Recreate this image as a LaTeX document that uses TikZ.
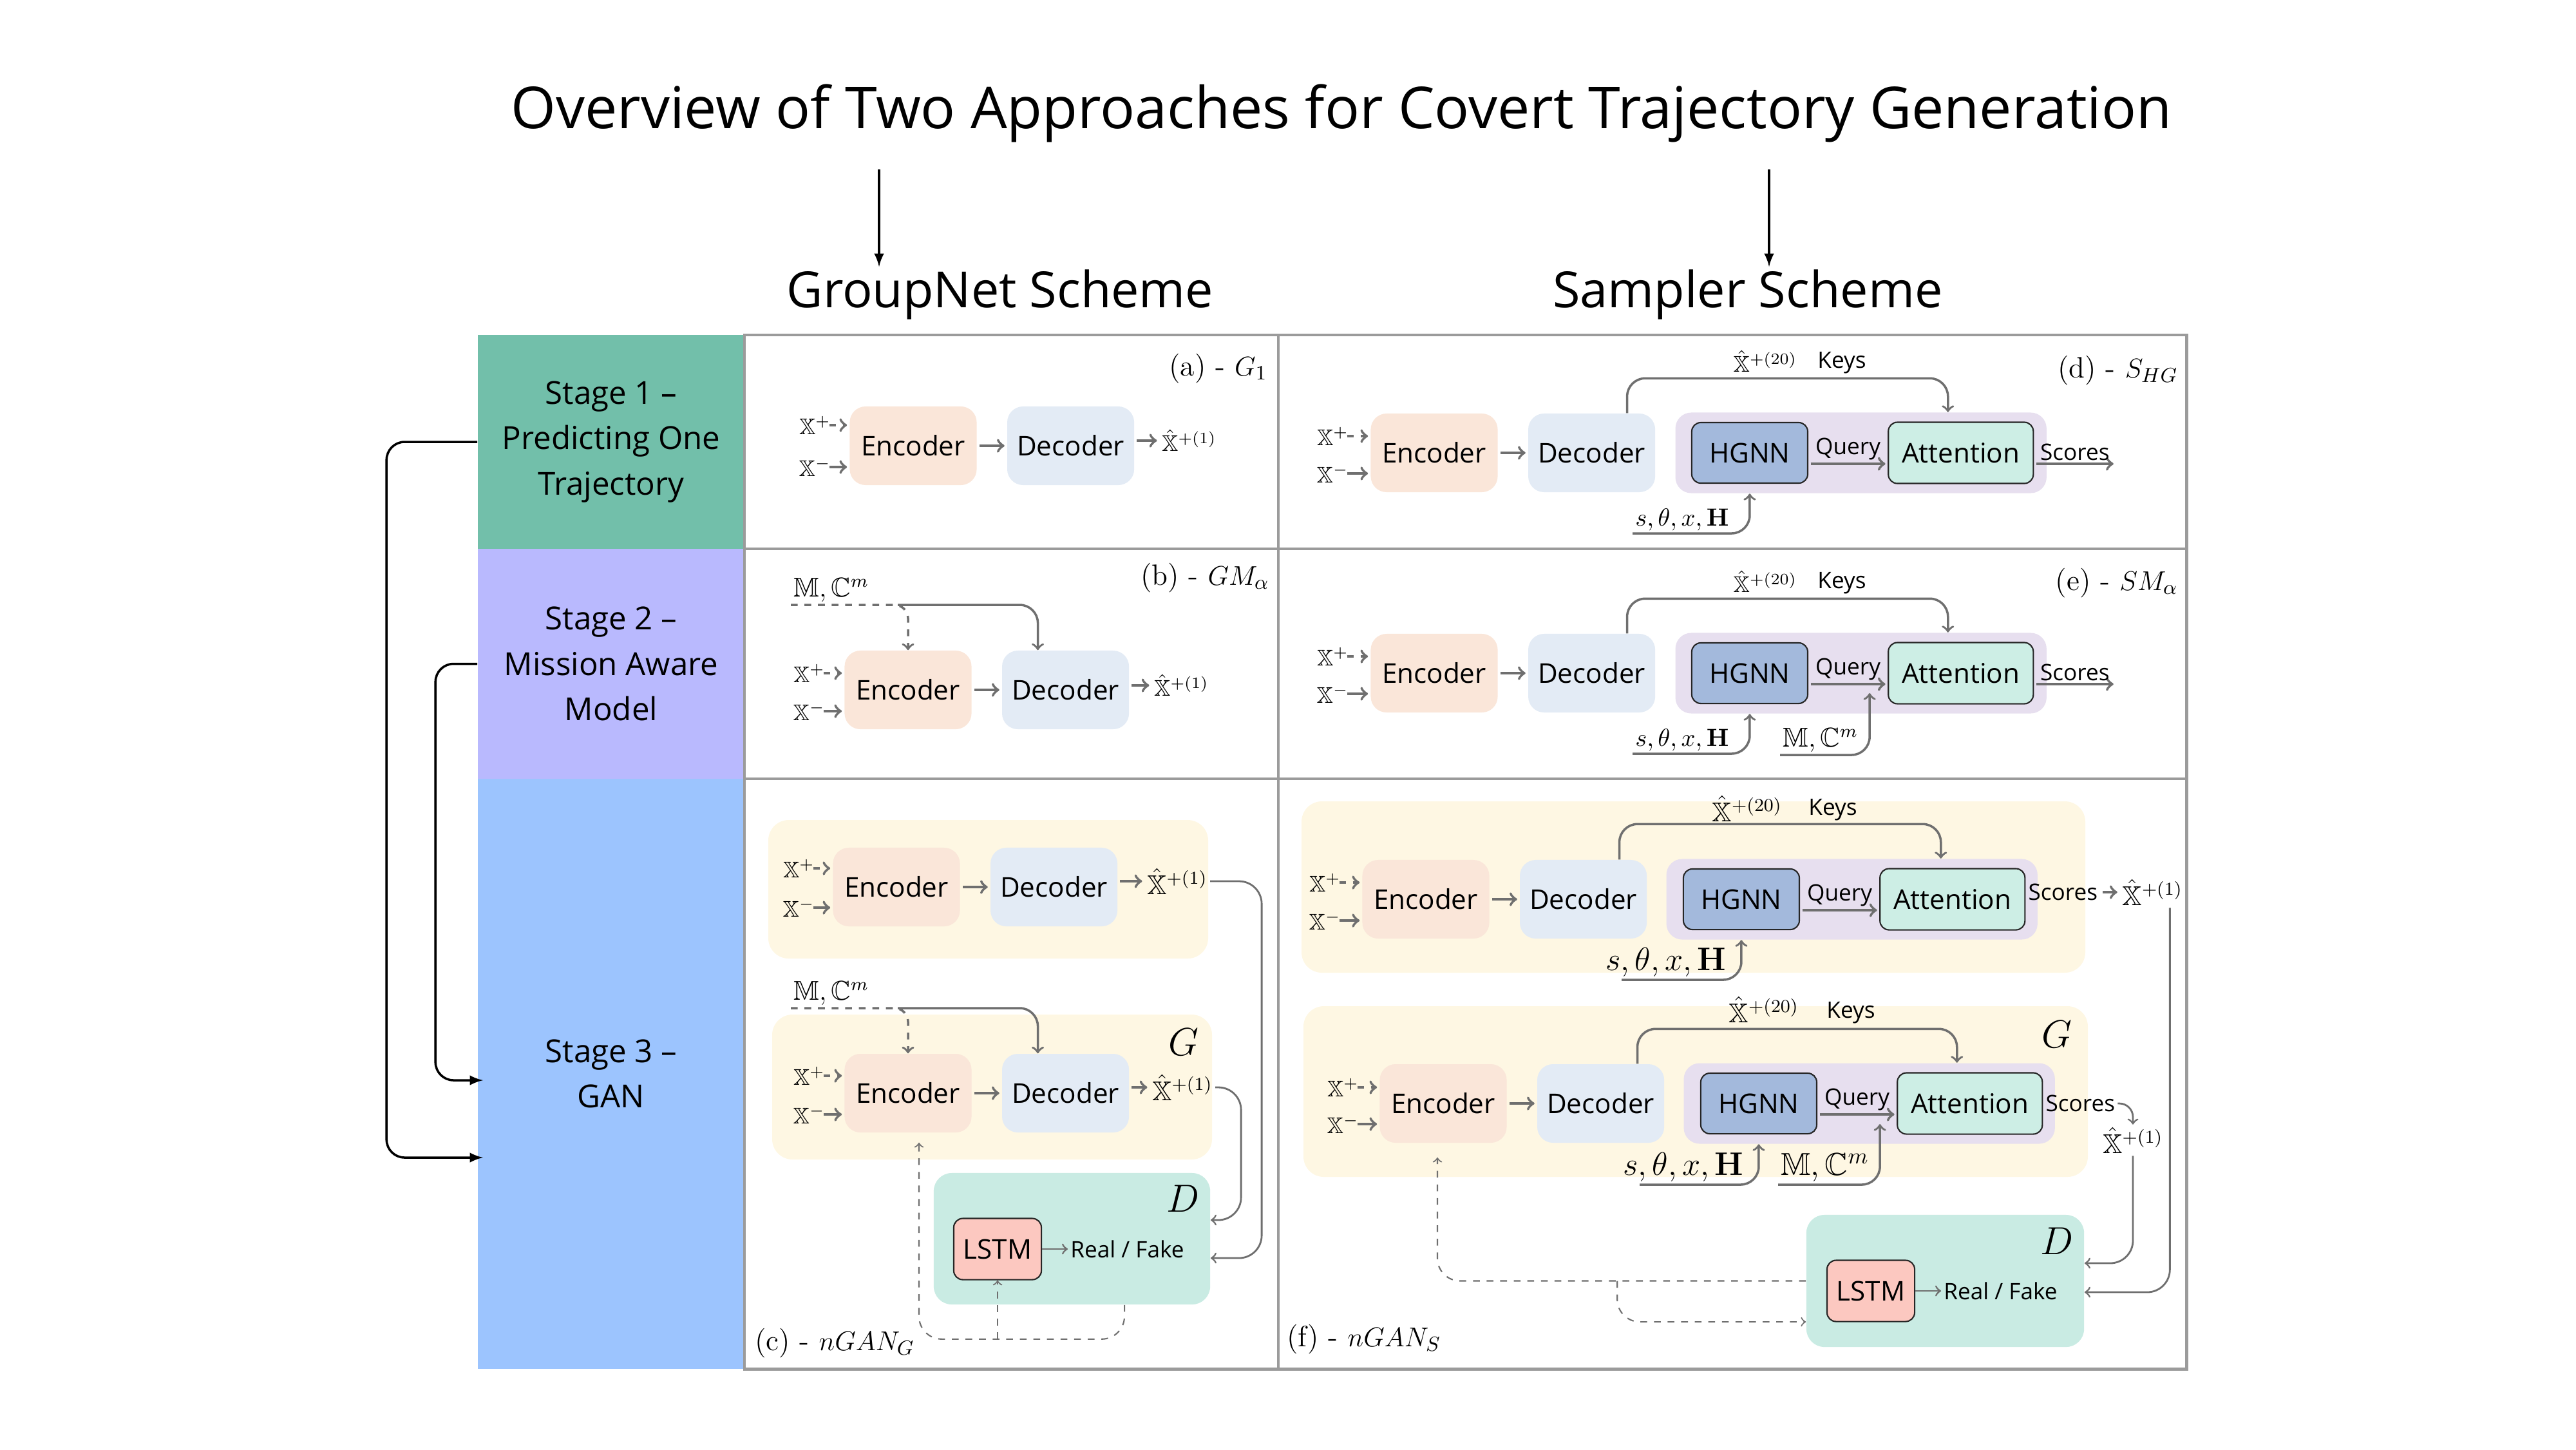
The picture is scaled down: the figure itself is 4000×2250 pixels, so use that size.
\documentclass[tikz,border=0pt]{standalone}
\usepackage{amsmath}
\usepackage{amssymb}
\usepackage[no-math]{fontspec}
\setsansfont{Open Sans}
\usepackage{tikz}
\definecolor{stageone}{HTML}{72BFAA}
\definecolor{stagetwo}{HTML}{B9B9FE}
\definecolor{stagethree}{HTML}{9CC4FE}
\definecolor{encfill}{HTML}{FAE6D9}
\definecolor{decfill}{HTML}{E3EBF5}
\definecolor{yelfill}{HTML}{FEF7E3}
\definecolor{grpfill}{HTML}{E7DFEF}
\definecolor{hgnnfill}{HTML}{A3B9DC}
\definecolor{attfill}{HTML}{CDEEE5}
\definecolor{discfill}{HTML}{C9EBE3}
\definecolor{lstmfill}{HTML}{FCC8C0}
\definecolor{flowgray}{HTML}{6F6F6F}
\definecolor{gridgray}{HTML}{9B9B9B}
\newlength{\BoxSep}
\setlength{\BoxSep}{4.6mm}
\newlength{\QuerySep}
\setlength{\QuerySep}{12.3mm}
\tikzset{/traj/enc/.style={
	rectangle, rounded corners=7pt, fill=encfill, minimum width=1.97cm, minimum height=1.22cm, font=\sffamily\fontsize{12}{14}\selectfont
}}
\tikzset{/traj/dec/.style={/traj/enc, fill=decfill}}
\tikzset{/traj/grp/.style={rectangle, rounded corners=7pt, fill=grpfill, minimum width=5.76cm, minimum height=1.25cm}}
\tikzset{/traj/hgnn/.style={
	rectangle, rounded corners=4pt, draw=black!85, line width=0.6pt, fill=hgnnfill, minimum width=1.8cm, minimum height=0.94cm, font=\sffamily\fontsize{12}{14}\selectfont
}}
\tikzset{/traj/att/.style={/traj/hgnn, fill=attfill, minimum width=2.25cm, minimum height=0.95cm}}
\tikzset{/traj/lstm/.style={/traj/hgnn, fill=lstmfill, minimum width=1.36cm, minimum height=0.95cm}}
\tikzset{/traj/disc/.style={rectangle, rounded corners=8pt, fill=discfill}}
\tikzset{/traj/stage/.style={rectangle, inner sep=0pt, minimum width=4.14cm, align=center, font=\sffamily\fontsize{14}{20}\selectfont}}
\tikzset{/traj/title/.style={inner sep=1pt, anchor=base, font=\sffamily\fontsize{25.5}{30}\selectfont}}
\tikzset{/traj/scheme/.style={inner sep=1pt, anchor=base, font=\sffamily\fontsize{22}{26}\selectfont}}
\tikzset{/traj/lbl/.style={inner sep=1pt, font=\sffamily\fontsize{10}{12}\selectfont}}
\tikzset{/traj/math/.style={inner sep=1pt, font=\fontsize{10}{12}\selectfont}}
\tikzset{/traj/mathM/.style={inner sep=1pt, font=\fontsize{11}{13}\selectfont}}
\tikzset{/traj/mathL/.style={inner sep=1pt, font=\fontsize{12}{14}\selectfont}}
\tikzset{/traj/mathXL/.style={inner sep=1pt, font=\fontsize{14}{16}\selectfont}}
\tikzset{/traj/tag/.style={inner sep=1pt, font=\fontsize{13}{15}\selectfont}}
\tikzset{/traj/big/.style={inner sep=1pt, font=\fontsize{16}{18}\selectfont}}
\tikzset{/traj/flow/.style={draw=flowgray, line width=1.2pt, shorten >=1pt, shorten <=1pt, ->}}
\tikzset{/traj/key/.style={draw=flowgray, line width=1pt, ->}}
\tikzset{/traj/thin/.style={draw=flowgray, line width=0.8pt, ->}}
\tikzset{/traj/loop/.style={draw=flowgray, line width=0.6pt, dashed, ->}}
\tikzset{/traj/bracket/.style={draw=black, line width=1pt, -latex}}
\tikzset{/traj/grid/.style={draw=gridgray, line width=1.4pt}}
\begin{document}
\begin{tikzpicture}[x=0.01cm, y=-0.01cm]
			\useasboundingbox (0,0) rectangle (4000,2250);
			\node[/traj/title] (title) at (2083,199) {Overview of Two Approaches for Covert Trajectory Generation};
			\node[/traj/scheme] (grp) at (1553,477) {GroupNet Scheme};
			\node[/traj/scheme] (smp) at (2714,477) {Sampler Scheme};
			\coordinate (arrG) at (1365,263);
			\coordinate (arrS) at (2747,263);
			\draw[/traj/bracket] (arrG) -- (arrG |- grp.north);
			\draw[/traj/bracket] (arrS) -- (arrS |- smp.north);
			\node[/traj/stage, fill=stageone, minimum height=3.32cm] (stage1) at (949,686) {Stage 1 --\\Predicting One\\Trajectory};
			\node[/traj/stage, fill=stagetwo, minimum height=3.57cm] (stage2) at (949,1030.5) {Stage 2 --\\Mission Aware\\Model};
			\node[/traj/stage, fill=stagethree, minimum height=9.16cm] (stage3) at (949,1667) {Stage 3 --\\GAN};
			\coordinate (in1) at (750,1797);
			\coordinate (in2) at (750,1677);
			\draw[/traj/bracket, rounded corners=8pt] (stage1.west) -- ++(-141,0) |- (in1);
			\draw[/traj/bracket, rounded corners=8pt] (stage2.west) -- ++(-65,0) |- (in2);
			\draw[/traj/grid] (1156,520) rectangle (3395,2125);
			\draw[/traj/grid] (1985,520) -- (1985,2125);
			\draw[/traj/grid] (1156,852) -- (3395,852);
			\draw[/traj/grid] (1156,1209) -- (3395,1209);
			\node[/traj/enc] (encA) at (1418,692) {Encoder};
			\path (encA.east) ++(\BoxSep,0) node[anchor=west, /traj/dec] (decA) {Decoder} edge[/traj/flow, <-] (encA);
			\node[/traj/math, anchor=east] (xpA) at (1294,660) {$\mathbb{X}^{+}$};
			\node[/traj/math, anchor=east] (xmA) at (1294,725) {$\mathbb{X}^{-}$};
			\draw[/traj/flow, dashed] ([xshift=-1mm]xpA.east) -- (xpA.east -| encA.west);
			\draw[/traj/flow] ([xshift=-1mm]xmA.east) -- (xmA.east -| encA.west);
			\node[/traj/math, anchor=west] (outA) at (1800,684) {$\hat{\mathbb{X}}^{+(1)}$};
			\draw[/traj/flow] (decA.east |- outA.west) -- (outA.west);
			\node[/traj/tag, anchor=east] (tagA) at (1972,572) {(a) - $G_1$};
			\node[/traj/enc] (encB) at (1410,1071) {Encoder};
			\path (encB.east) ++(\BoxSep,0) node[anchor=west, /traj/dec] (decB) {Decoder} edge[/traj/flow, <-] (encB);
			\node[/traj/math, anchor=east] (xpB) at (1285,1045) {$\mathbb{X}^{+}$};
			\node[/traj/math, anchor=east] (xmB) at (1285,1104) {$\mathbb{X}^{-}$};
			\draw[/traj/flow, dashed] ([xshift=-1mm]xpB.east) -- (xpB.east -| encB.west);
			\draw[/traj/flow] ([xshift=-1mm]xmB.east) -- (xmB.east -| encB.west);
			\node[/traj/math, anchor=west] (outB) at (1788,1064) {$\hat{\mathbb{X}}^{+(1)}$};
			\draw[/traj/flow] (decB.east |- outB.west) -- (outB.west);
			\node[/traj/mathL, anchor=south west] (mcB) at (1228,939) {$\mathbb{M},\mathbb{C}^m$};
			\draw[/traj/key, dashed, rounded corners=6pt] (mcB.south west) -| (encB.north);
			\draw[/traj/key, rounded corners=8pt] ([xshift=-1.6mm]encB.north |- mcB.south) -| ([xshift=-4.3mm]decB.north);
			\node[/traj/tag, anchor=east] (tagB) at (1975,897) {(b) - $GM_\alpha$};
			\fill[yelfill, rounded corners=9pt] (1193,1273) rectangle (1876,1488);
			\fill[yelfill, rounded corners=9pt] (1199,1575) rectangle (1882,1800);
			\node[/traj/enc] (encC1) at (1392,1377) {Encoder};
			\path (encC1.east) ++(\BoxSep,0) node[anchor=west, /traj/dec] (decC1) {Decoder} edge[/traj/flow, <-] (encC1);
			\node[/traj/math, anchor=east] (xpC1) at (1269,1348) {$\mathbb{X}^{+}$};
			\node[/traj/math, anchor=east] (xmC1) at (1269,1409) {$\mathbb{X}^{-}$};
			\draw[/traj/flow, dashed] ([xshift=-1mm]xpC1.east) -- (xpC1.east -| encC1.west);
			\draw[/traj/flow] ([xshift=-1mm]xmC1.east) -- (xmC1.east -| encC1.west);
			\node[/traj/mathL, anchor=west] (outC1) at (1777,1368) {$\hat{\mathbb{X}}^{+(1)}$};
			\draw[/traj/flow] (decC1.east |- outC1.west) -- (outC1.west);
			\node[/traj/mathL, anchor=south west] (mcC) at (1228,1565) {$\mathbb{M},\mathbb{C}^m$};
			\node[/traj/enc] (encC2) at (1410,1697) {Encoder};
			\path (encC2.east) ++(\BoxSep,0) node[anchor=west, /traj/dec] (decC2) {Decoder} edge[/traj/flow, <-] (encC2);
			\draw[/traj/key, dashed, rounded corners=6pt] (mcC.south west) -| (encC2.north);
			\draw[/traj/key, rounded corners=8pt] ([xshift=-1.6mm]encC2.north |- mcC.south) -| ([xshift=-4.3mm]decC2.north);
			\node[/traj/math, anchor=east] (xpC2) at (1285,1670) {$\mathbb{X}^{+}$};
			\node[/traj/math, anchor=east] (xmC2) at (1285,1730) {$\mathbb{X}^{-}$};
			\draw[/traj/flow, dashed] ([xshift=-1mm]xpC2.east) -- (xpC2.east -| encC2.west);
			\draw[/traj/flow] ([xshift=-1mm]xmC2.east) -- (xmC2.east -| encC2.west);
			\node[/traj/mathL, anchor=west] (outC2) at (1785,1688) {$\hat{\mathbb{X}}^{+(1)}$};
			\draw[/traj/flow] (decC2.east |- outC2.west) -- (outC2.west);
			\node[/traj/big] (gC) at (1838,1618) {$G$};
			\node[/traj/disc, minimum width=4.29cm, minimum height=2.04cm] (dC) at (1664.5,1923) {};
			\node[/traj/big] (dCl) at (1837,1861) {$D$};
			\node[/traj/lstm] (lstmC) at (1549,1939) {LSTM};
			\path (lstmC.east) ++(4mm,0) node[anchor=west, /traj/lbl] (rfC) {Real / Fake} edge[/traj/thin, <-] (lstmC);
			\draw[/traj/thin, rounded corners=10pt] (outC1.east) -- ++(80,0) |- ([yshift=-3mm]dC.east);
			\draw[/traj/thin, rounded corners=10pt] (outC2.east) -- ++(40,0) |- ([yshift=2.9mm]dC.east);
			\draw[/traj/loop, rounded corners=10pt] ([xshift=8.15mm]dC.south) -- ++(0,53) coordinate (loopC) -| ([xshift=1.7mm, yshift=-1.5mm]encC2.south);
			\draw[/traj/loop] (lstmC.south |- loopC) -- (lstmC.south);
			\node[/traj/tag, anchor=west] (tagC) at (1168,2085) {(c) - $nGAN_G$};
			\node[/traj/enc] (encD) at (2227,703) {Encoder};
			\path (encD.east) ++(\BoxSep,0) node[anchor=west, /traj/dec] (decD) {Decoder} edge[/traj/flow, <-] (encD);
			\path (decD.east) ++(3mm,0) node[anchor=west, /traj/grp] (pD) {};
			\path (pD.west) ++(2.5mm,0) node[anchor=west, /traj/hgnn] (hgnnD) {HGNN};
			\path (hgnnD.east) ++(\QuerySep,0) node[anchor=west, /traj/att] (attD) {Attention};
			\draw[/traj/flow] ([yshift=-1.7mm]hgnnD.east) -- node[above, /traj/lbl] (qD) {Query} ([yshift=-1.7mm]attD.west);
			\draw[/traj/flow] ([yshift=-1.7mm]attD.east) -- node[above, /traj/lbl] (scD) {Scores} ++(127,0) coordinate (scDe);
			\draw[/traj/key, rounded corners=8pt] ([xshift=5.5mm]decD.north) -- ++(0,-54) -| ([xshift=-2mm]attD.north |- pD.north);
			\node[/traj/math, anchor=east] (xpD) at (2098,677) {$\mathbb{X}^{+}$};
			\node[/traj/math, anchor=east] (xmD) at (2098,735) {$\mathbb{X}^{-}$};
			\draw[/traj/flow, dashed] ([xshift=-1mm]xpD.east) -- (xpD.east -| encD.west);
			\draw[/traj/flow] ([xshift=-1mm]xmD.east) -- (xmD.east -| encD.west);
			\node[/traj/math] (kxD) at (2741,561) {$\hat{\mathbb{X}}^{+(20)}$};
			\node[/traj/lbl] (kyD) at (2860,563) {Keys};
			\node[/traj/mathM, anchor=south west] (sD) at (2535,828) {$s,\theta,x,\mathbf{H}$};
			\draw[/traj/key, rounded corners=8pt] (sD.south west) -| (hgnnD.south |- pD.south);
			\node[/traj/tag, anchor=east] (tagD) at (3386,575) {(d) - $S_{HG}$};
			\node[/traj/enc] (encE) at (2227,1045) {Encoder};
			\path (encE.east) ++(\BoxSep,0) node[anchor=west, /traj/dec] (decE) {Decoder} edge[/traj/flow, <-] (encE);
			\path (decE.east) ++(3mm,0) node[anchor=west, /traj/grp] (pE) {};
			\path (pE.west) ++(2.5mm,0) node[anchor=west, /traj/hgnn] (hgnnE) {HGNN};
			\path (hgnnE.east) ++(\QuerySep,0) node[anchor=west, /traj/att] (attE) {Attention};
			\draw[/traj/flow] ([yshift=-1.7mm]hgnnE.east) -- node[above, /traj/lbl] (qE) {Query} ([yshift=-1.7mm]attE.west);
			\draw[/traj/flow] ([yshift=-1.7mm]attE.east) -- node[above, /traj/lbl] (scE) {Scores} ++(127,0) coordinate (scEe);
			\draw[/traj/key, rounded corners=8pt] ([xshift=5.5mm]decE.north) -- ++(0,-54) -| ([xshift=-2mm]attE.north |- pE.north);
			\node[/traj/math, anchor=east] (xpE) at (2098,1019) {$\mathbb{X}^{+}$};
			\node[/traj/math, anchor=east] (xmE) at (2098,1077) {$\mathbb{X}^{-}$};
			\draw[/traj/flow, dashed] ([xshift=-1mm]xpE.east) -- (xpE.east -| encE.west);
			\draw[/traj/flow] ([xshift=-1mm]xmE.east) -- (xmE.east -| encE.west);
			\node[/traj/math] (kxE) at (2741,903) {$\hat{\mathbb{X}}^{+(20)}$};
			\node[/traj/lbl] (kyE) at (2860,905) {Keys};
			\node[/traj/mathM, anchor=south west] (sE) at (2535,1170) {$s,\theta,x,\mathbf{H}$};
			\draw[/traj/key, rounded corners=8pt] (sE.south west) -| (hgnnE.south |- pE.south);
			\node[/traj/mathL, anchor=south west] (mcE) at (2764,1172) {$\mathbb{M},\mathbb{C}^m$};
			\draw[/traj/key, rounded corners=8pt] (mcE.south west) -| ([xshift=-2.8mm, yshift=-3.1mm]attE.west);
			\node[/traj/tag, anchor=east] (tagE) at (3386,905) {(e) - $SM_\alpha$};
			\fill[yelfill, rounded corners=9pt] (2021,1244) rectangle (3238,1510);
			\fill[yelfill, rounded corners=9pt] (2024,1562) rectangle (3242,1827);
			\node[/traj/enc] (encF1) at (2214,1396) {Encoder};
			\path (encF1.east) ++(\BoxSep,0) node[anchor=west, /traj/dec] (decF1) {Decoder} edge[/traj/flow, <-] (encF1);
			\path (decF1.east) ++(2.9mm,0) node[anchor=west, /traj/grp] (pF1) {};
			\path (pF1.west) ++(2.6mm,0) node[anchor=west, /traj/hgnn] (hgnnF1) {HGNN};
			\path (hgnnF1.east) ++(\QuerySep,0) node[anchor=west, /traj/att] (attF1) {Attention};
			\draw[/traj/flow] ([yshift=-1.7mm]hgnnF1.east) -- node[above, /traj/lbl] (qF1) {Query} ([yshift=-1.7mm]attF1.west);
			\path (attF1.east) ++(0,-11) node[anchor=west, /traj/lbl] (scF1) {Scores};
			\path (scF1.east) ++(3mm,0) node[anchor=west, /traj/mathL] (outF1) {$\hat{\mathbb{X}}^{+(1)}$} edge[/traj/flow, <-] (scF1);
			\draw[/traj/key, rounded corners=8pt] ([xshift=5.6mm]decF1.north) -- ++(0,-55) -| ([xshift=-1.8mm]attF1.north |- pF1.north);
			\node[/traj/math, anchor=east] (xpF1) at (2086,1370) {$\mathbb{X}^{+}$};
			\node[/traj/math, anchor=east] (xmF1) at (2086,1429) {$\mathbb{X}^{-}$};
			\draw[/traj/flow, dashed] ([xshift=-1mm]xpF1.east) -- (xpF1.east -| encF1.west);
			\draw[/traj/flow] ([xshift=-1mm]xmF1.east) -- (xmF1.east -| encF1.west);
			\node[/traj/mathL] (kxF1) at (2713,1255) {$\hat{\mathbb{X}}^{+(20)}$};
			\node[/traj/lbl] (kyF1) at (2846,1257) {Keys};
			\node[/traj/mathXL, anchor=south west] (sF1) at (2489,1521) {$s,\theta,x,\mathbf{H}$};
			\draw[/traj/key, rounded corners=8pt] ([xshift=2.9mm]sF1.south west) -| (hgnnF1.south |- pF1.south);
			\node[/traj/enc] (encF2) at (2241,1713) {Encoder};
			\path (encF2.east) ++(\BoxSep,0) node[anchor=west, /traj/dec] (decF2) {Decoder} edge[/traj/flow, <-] (encF2);
			\path (decF2.east) ++(2.9mm,0) node[anchor=west, /traj/grp] (pF2) {};
			\path (pF2.west) ++(2.6mm,0) node[anchor=west, /traj/hgnn] (hgnnF2) {HGNN};
			\path (hgnnF2.east) ++(\QuerySep,0) node[anchor=west, /traj/att] (attF2) {Attention};
			\draw[/traj/flow] ([yshift=-1.7mm]hgnnF2.east) -- node[above, /traj/lbl] (qF2) {Query} ([yshift=-1.7mm]attF2.west);
			\path (attF2.east) node[anchor=west, /traj/lbl] (scF2) {Scores};
			\node[/traj/mathL] (outF2) at (3312,1770) {$\hat{\mathbb{X}}^{+(1)}$};
			\draw[/traj/thin, rounded corners=6pt] (scF2.east) -| (outF2.north);
			\draw[/traj/key, rounded corners=8pt] ([xshift=5.7mm]decF2.north) -- ++(0,-54) -| ([xshift=-2mm]attF2.north |- pF2.north);
			\node[/traj/math, anchor=east] (xpF2) at (2114,1688) {$\mathbb{X}^{+}$};
			\node[/traj/math, anchor=east] (xmF2) at (2114,1745) {$\mathbb{X}^{-}$};
			\draw[/traj/flow, dashed] ([xshift=-1mm]xpF2.east) -- (xpF2.east -| encF2.west);
			\draw[/traj/flow] ([xshift=-1mm]xmF2.east) -- (xmF2.east -| encF2.west);
			\node[/traj/mathL] (kxF2) at (2739,1567) {$\hat{\mathbb{X}}^{+(20)}$};
			\node[/traj/lbl] (kyF2) at (2874,1572) {Keys};
			\node[/traj/mathXL, anchor=south west] (sF2) at (2516,1839) {$s,\theta,x,\mathbf{H}$};
			\draw[/traj/key, rounded corners=8pt] ([xshift=3mm]sF2.south west) -| (hgnnF2.south |- pF2.south);
			\node[/traj/mathXL, anchor=south west] (mcF) at (2761,1839) {$\mathbb{M},\mathbb{C}^m$};
			\draw[/traj/key, rounded corners=8pt] (mcF.south west) -| ([xshift=-2.6mm, yshift=-3.2mm]attF2.west);
			\node[/traj/big] (gF) at (3194,1606) {$G$};
			\node[/traj/disc, minimum width=4.31cm, minimum height=2.05cm] (dF) at (3020.5,1988.5) {};
			\node[/traj/big] (dFl) at (3194,1927) {$D$};
			\node[/traj/lstm] (lstmF) at (2905,2004) {LSTM};
			\path (lstmF.east) ++(4mm,0) node[anchor=west, /traj/lbl] (rfF) {Real / Fake} edge[/traj/thin, <-] (lstmF);
			\draw[/traj/thin, rounded corners=10pt] ([xshift=2.7mm]outF1.south) |- ([yshift=-1.75mm]dF.east);
			\draw[/traj/thin, rounded corners=10pt] (outF2.south) |- ([yshift=2.75mm]dF.east);
			\draw[/traj/loop, rounded corners=10pt] (dF.west) -| ([xshift=-0.9mm, yshift=-2.2mm]encF2.south);
			\path (dF.west) ++(-293,0) coordinate (loopF);
			\draw[/traj/loop, rounded corners=10pt] (loopF) |- ([yshift=-6.35mm]dF.west);
			\node[/traj/tag, anchor=west] (tagF) at (1994,2079) {(f) - $nGAN_S$};
		\end{tikzpicture}
\end{document}
